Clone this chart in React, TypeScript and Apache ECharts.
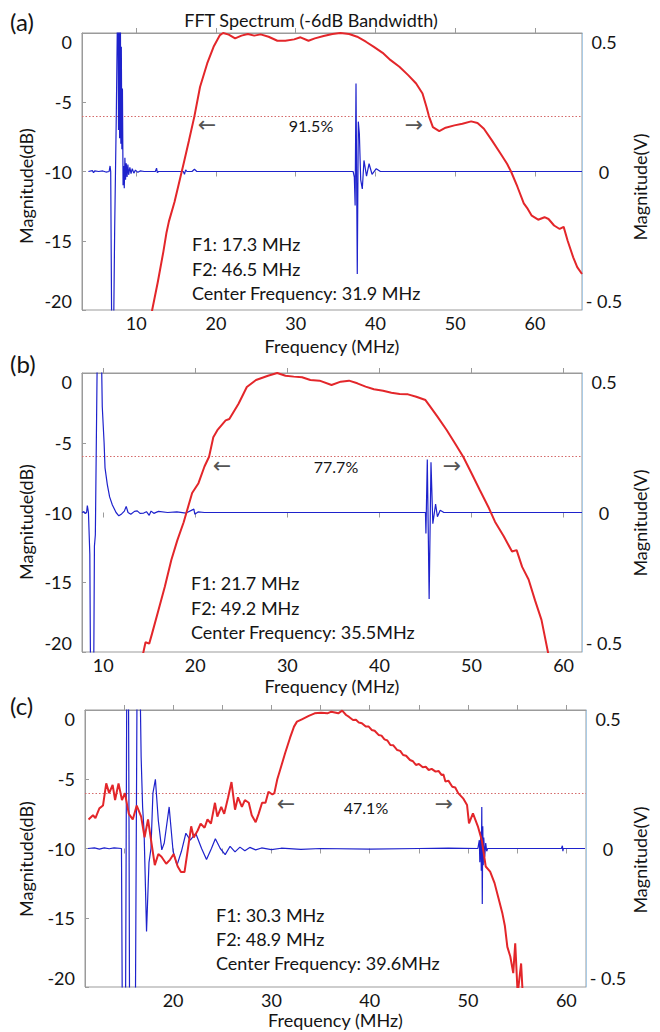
import React, { useEffect, useRef } from "react";
import * as echarts from "echarts";

const FONT = 'Lato, "Open Sans", sans-serif';

// ---------- data ----------
const panelLabels = ["(a)", "(b)", "(c)"];
const chartTitle = "FFT Spectrum (-6dB Bandwidth)";
const xName = "Frequency (MHz)";
const leftName = "Magnitude(dB)";
const rightName = "Magnitude(V)";
const bandwidths = ["91.5%", "77.7%", "47.1%"];
const infoA = ["F1: 17.3 MHz", "F2: 46.5 MHz", "Center Frequency: 31.9 MHz"];
const infoB = ["F1: 21.7 MHz", "F2: 49.2 MHz", "Center Frequency: 35.5MHz"];
const infoC = ["F1: 30.3 MHz", "F2: 48.9 MHz", "Center Frequency: 39.6MHz"];

const xRangeA = [3.2, 65.9];
const xRangeB = [7.7, 62.0];
const xRangeC = [11.04, 62.0];
const xLabelsAB = [10, 20, 30, 40, 50, 60];
const xLabelsC = [20, 30, 40, 50, 60];
const xTicksC = [15, 20, 25, 30, 35, 40, 45, 50, 55, 60];
const thresholdDb = -6;

// (a) spectrum, dB
const redA: number[][] = [
  [11.5, -22], [12.0, -20], [12.7, -18.0], [13.4, -15.8], [13.8, -14.4], [14.1, -13.6], [14.8, -12.2],
  [15.5, -10.5], [16.0, -9.3], [16.6, -7.8], [17.3, -6.0], [18.0, -3.9], [18.9, -2.2], [19.7, -1.0],
  [20.5, -0.15], [20.9, 0], [21.6, -0.12], [22.4, -0.39], [23.2, -0.19], [24.0, -0.07], [24.8, -0.19],
  [25.6, -0.1], [26.6, -0.27], [27.7, -0.56], [28.7, -0.56], [29.8, -0.46], [30.6, -0.31], [31.6, -0.56],
  [32.4, -0.39], [33.5, -0.22], [34.6, -0.07], [35.6, 0], [36.7, -0.07], [37.7, -0.27], [38.8, -0.63],
  [39.8, -1.0], [40.9, -1.43], [41.9, -1.96], [43.0, -2.44], [44.1, -3.04], [45.1, -3.65], [45.9, -4.37],
  [46.4, -5.34], [46.7, -6.0], [47.2, -6.79], [48.0, -7.08], [48.8, -6.84], [49.9, -6.67], [50.9, -6.55],
  [52.0, -6.38], [52.8, -6.5], [53.6, -6.91], [54.6, -7.75], [55.7, -8.72], [56.5, -9.44], [57.0, -10.0],
  [57.8, -11.1], [58.6, -12.3], [59.1, -12.7], [59.6, -13.19], [60.4, -13.48], [61.2, -13.3], [61.7, -13.43],
  [62.4, -13.9], [63.1, -14.15], [63.6, -14.0], [64.1, -15.0], [64.8, -16.2], [65.3, -16.9], [65.9, -17.4],
];
// (a) waveform, V
const blueA: number[][] = [
  [4.0, 0], [4.5, 0.003], [4.65, -0.004], [4.8, 0.002], [5.3, 0], [5.8, 0.002], [6.2, -0.002], [6.6, 0],
  [6.72, 0.02], [6.8, 0], [6.95, -0.7], [7.12, -0.7], [7.3, -0.2], [7.5, 0.2], [7.7, 0.7], [7.78, 0.15],
  [7.85, 0.7], [7.92, 0.12], [8.0, 0.7], [8.07, 0.1], [8.13, 0.45], [8.2, 0.08], [8.27, 0.3], [8.35, -0.05],
  [8.42, 0.02], [8.5, -0.06], [8.58, 0.05], [8.66, -0.03], [8.75, 0.03], [8.85, -0.02], [8.95, 0.025],
  [9.05, -0.012], [9.2, 0.015], [9.35, -0.008], [9.5, 0.01], [9.7, -0.006], [9.9, 0.005], [10.2, -0.003],
  [10.5, 0.002], [11, 0], [12.4, 0], [12.55, 0.012], [12.65, -0.004], [12.8, 0], [15.9, 0], [16.05, -0.01],
  [16.2, 0.006], [16.35, 0], [17.0, 0], [17.3, 0.008], [17.6, 0], [37.2, 0], [37.35, -0.02], [37.45, -0.123],
  [37.56, 0.318], [37.72, -0.37], [37.85, 0.18], [37.98, 0.137], [38.15, -0.03], [38.35, -0.063],
  [38.56, 0.04], [38.88, -0.017], [39.2, 0.028], [39.57, -0.01], [40.1, 0.01], [40.62, 0], [65.9, 0],
];

// (b) spectrum, dB
const redB: number[][] = [
  [14.0, -21], [14.37, -20], [14.6, -19.3], [15.0, -19.4], [15.3, -18.7], [16.0, -17.0], [16.7, -15.3],
  [17.4, -13.4], [18.05, -12.0], [18.74, -10.7], [19.66, -8.6], [20.35, -7.9], [21.0, -6.7], [21.5, -6.0],
  [21.96, -4.6], [22.4, -4.1], [23.3, -3.4], [23.7, -3.3], [24.7, -2.2], [25.6, -1.0], [26.6, -0.5],
  [27.9, -0.2], [28.9, 0], [29.8, -0.2], [30.7, -0.26], [31.6, -0.31], [32.5, -0.5], [33.5, -0.55],
  [34.8, -0.86], [35.8, -0.62], [36.7, -0.55], [37.6, -0.74], [38.5, -0.98], [39.4, -1.17], [40.4, -1.27],
  [41.3, -1.41], [42.2, -1.5], [43.1, -1.53], [44.0, -1.7], [45.0, -1.94], [45.4, -2.3], [46.3, -3.13],
  [47.3, -4.09], [48.2, -5.04], [49.1, -6.0], [50.0, -7.19], [50.9, -8.39], [51.9, -9.7], [52.55, -10.66],
  [53.5, -11.7], [54.4, -12.8], [54.9, -12.7], [55.5, -13.9], [56.2, -14.8], [56.9, -16.3], [57.6, -17.7],
  [58.3, -20], [58.6, -21],
];
// (b) waveform, V
const blueB: number[][] = [
  [7.7, 0], [7.9, 0.003], [8.05, -0.004], [8.2, 0.0], [8.28, 0.025], [8.4, 0], [8.55, -0.15], [8.65, -0.7],
  [8.95, -0.7], [9.05, -0.12], [9.15, -0.08], [9.4, 0.7], [9.75, 0.7], [9.9, 0.38], [10.1, 0.25], [10.2, 0.16],
  [10.45, 0.1], [10.7, 0.056], [11.0, 0.027], [11.4, 0.0], [11.7, -0.012], [12.0, -0.005], [12.3, 0.005],
  [12.5, 0.022], [12.7, 0.0], [13.0, -0.006], [13.4, 0.004], [13.7, 0.006], [14.0, -0.003], [14.4, -0.002],
  [14.7, 0.003], [15.0, -0.01], [15.2, 0.005], [15.5, -0.003], [16.0, 0.004], [17, 0], [18, 0.002],
  [19.0, -0.002], [19.85, 0.012], [19.95, -0.006], [20.3, 0.002], [21, 0], [45.0, 0], [45.05, -0.075],
  [45.2, 0.19], [45.4, -0.31], [45.6, 0.18], [45.8, -0.04], [46.1, 0.03], [46.3, -0.015], [46.6, 0.008],
  [47, 0], [62, 0],
];

// (c) spectrum, dB
const redC: number[][] = [
  [11.4, -7.9], [11.85, -7.6], [12.1, -7.8], [12.5, -7.1], [12.87, -6.9], [13.2, -5.3], [13.5, -6.0],
  [13.85, -5.4], [14.1, -6.5], [14.45, -5.3], [14.8, -6.5], [15.1, -6.0], [15.5, -7.5], [15.9, -7.9],
  [16.3, -6.9], [16.75, -7.7], [17.1, -9.2], [17.45, -7.9], [17.8, -9.6], [18.14, -11.2], [18.5, -10.4],
  [18.82, -10.6], [19.3, -11.1], [19.7, -10.8], [20.06, -10.4], [20.47, -11.3], [20.8, -11.7], [21.16, -11.7],
  [21.43, -10.4], [21.84, -8.4], [22.1, -9.2], [22.5, -8.7], [22.8, -8.2], [23.2, -8.5], [23.5, -7.9],
  [23.85, -8.2], [24.26, -6.7], [24.5, -7.7], [24.9, -7.0], [25.2, -7.5], [25.6, -6.3], [25.94, -5.2],
  [26.3, -7.2], [26.6, -6.3], [27.0, -7.0], [27.3, -6.5], [27.7, -6.7], [28.0, -7.6], [28.4, -8.1],
  [28.7, -7.5], [29.05, -6.7], [29.4, -6.7], [29.7, -5.9], [30.1, -6.1], [30.3, -6.0], [30.6, -5.0],
  [30.9, -4.3], [31.4, -3.1], [31.9, -2.0], [32.3, -1.2], [32.6, -0.84], [33.1, -0.67], [33.8, -0.43],
  [34.4, -0.24], [35.05, -0.19], [35.7, -0.24], [36.1, -0.12], [36.8, -0.24], [37.2, -0.05], [37.6, -0.36],
  [37.9, -0.5], [38.3, -0.72], [38.6, -0.7], [38.9, -0.91], [39.2, -0.95], [39.6, -1.2], [39.9, -1.2],
  [40.2, -1.44], [40.5, -1.5], [40.9, -1.8], [41.2, -1.85], [41.5, -2.12], [41.8, -2.2], [42.1, -2.53],
  [42.4, -2.55], [42.8, -2.89], [43.1, -2.95], [43.4, -3.25], [43.7, -3.3], [44.1, -3.61], [44.4, -3.7],
  [44.7, -3.97], [45.0, -3.9], [45.4, -4.14], [45.7, -4.1], [46.0, -4.33], [46.3, -4.25], [46.7, -4.45],
  [47.0, -4.4], [47.3, -4.69], [47.5, -4.65], [47.7, -5.17], [48.0, -5.1], [48.4, -5.54], [48.7, -5.6],
  [49.0, -6.0], [49.5, -6.38], [49.9, -6.86], [50.1, -8.18], [50.5, -7.46], [51.0, -8.4], [51.4, -9.4],
  [51.8, -11.3], [52.25, -11.67], [52.7, -12.5], [53.1, -13.6], [53.5, -14.7], [53.75, -15.6], [54.0, -17.1],
  [54.3, -17.8], [54.6, -19.0], [54.8, -16.85], [55.05, -20.5], [55.4, -18.3], [55.6, -21], [55.8, -22],
];
// (c) waveform, V
const blueC: number[][] = [
  [11.35, 0], [12, 0.002], [12.5, -0.002], [13, 0.002], [13.5, -0.001], [14, 0.002], [14.75, 0],
  [14.85, -0.7], [15.15, -0.7], [15.3, 0.7], [15.45, 0.7], [15.52, 0.07], [15.58, -0.7], [16.15, -0.7],
  [16.35, 0.7], [16.6, 0.7], [16.75, 0.33], [16.9, 0.15], [17.05, 0.06], [17.3, -0.3], [17.55, -0.05],
  [17.75, 0.0], [17.95, 0.2], [18.2, 0.25], [18.5, 0.1], [18.85, -0.005], [19.1, 0.02], [19.6, 0.15],
  [20.0, -0.01], [20.4, -0.06], [20.85, -0.01], [21.3, 0.055], [21.75, 0.03], [22.3, 0.055], [22.9, 0.0],
  [23.4, -0.04], [23.9, 0.0], [24.3, 0.035], [24.8, 0.0], [25.3, -0.022], [25.8, 0.008], [26.3, -0.012],
  [26.8, 0.005], [27.3, -0.008], [27.8, 0.004], [28.4, -0.005], [29.0, 0.002], [30, -0.004], [31, 0.001],
  [33, -0.003], [35, 0.0], [40, -0.002], [45, 0.0], [48, 0.001], [51.0, 0], [51.15, 0.03], [51.2, -0.05],
  [51.3, 0.06], [51.35, -0.08], [51.4, 0.15], [51.45, -0.2], [51.5, 0.08], [51.55, -0.06], [51.6, 0.04],
  [51.7, -0.03], [51.8, 0.02], [51.9, -0.01], [52, 0], [59.5, 0], [59.6, 0.01], [59.65, -0.01], [59.7, 0],
  [61.9, 0],
];

// ---------- layout ----------
const grids = [
  { left: 82, top: 33, width: 500, height: 277 },
  { left: 82, top: 373, width: 500, height: 279 },
  { left: 85, top: 710, width: 501, height: 277 },
];
const panels = [
  { red: redA, blue: blueA, xr: xRangeA, labels: xLabelsAB, ticks: xLabelsAB, info: infoA, nameGap: 27,
    infoPos: [192, 244, 24.5], pct: [311, 125], la: [207, 124], ra: [414, 124], tag: [10, 21], nameY: 186 },
  { red: redB, blue: blueB, xr: xRangeB, labels: xLabelsAB, ticks: xLabelsAB, info: infoB, nameGap: 25,
    infoPos: [191, 583, 24.5], pct: [336, 466], la: [222, 465], ra: [452, 465], tag: [10, 363], nameY: 522 },
  { red: redC, blue: blueC, xr: xRangeC, labels: xLabelsC, ticks: xTicksC, info: infoC, nameGap: 24,
    infoPos: [216, 915, 24], pct: [366, 807], la: [286, 803], ra: [444, 803], tag: [10, 705], nameY: 859 },
];

const GRAY = "#9b9b9b";
const TXT = "#141414";

function text(x: number, y: number, t: string, size: number, align = "left", extra: any = {}, font = FONT, fill = TXT) {
  return {
    type: "text",
    x,
    y,
    silent: true,
    ...extra,
    style: { text: t, fill, fontSize: size, fontFamily: font, align, verticalAlign: "middle" },
  };
}

function buildOption() {
  const xAxis: any[] = [];
  const yAxis: any[] = [];
  const series: any[] = [];
  const graphic: any[] = [];

  panels.forEach((p, i) => {
    xAxis.push({
      gridIndex: i, type: "value", min: p.xr[0], max: p.xr[1], position: "bottom",
      axisLine: { show: true, lineStyle: { color: GRAY, width: 1 } },
      axisTick: { show: true, inside: true, length: 5, lineStyle: { color: GRAY }, customValues: p.ticks },
      axisLabel: { show: true, customValues: p.labels, color: TXT, fontSize: 18, fontFamily: FONT, margin: 4 },
      splitLine: { show: false },
      name: xName, nameLocation: "middle", nameGap: p.nameGap,
      nameTextStyle: { color: TXT, fontSize: 18, fontFamily: FONT },
    });
    xAxis.push({
      gridIndex: i, type: "value", min: p.xr[0], max: p.xr[1], position: "top",
      axisLine: { show: false },
      axisTick: { show: true, inside: true, length: 5, lineStyle: { color: GRAY }, customValues: p.ticks },
      axisLabel: { show: false },
      splitLine: { show: false },
    });
    yAxis.push({
      gridIndex: i, type: "value", min: -20, max: 0, interval: 5, position: "left",
      axisLine: { show: true, lineStyle: { color: GRAY } },
      axisTick: { show: true, inside: true, length: 4, lineStyle: { color: GRAY } },
      axisLabel: { color: TXT, fontSize: 18, fontFamily: FONT, margin: 10, align: "right",
        verticalAlignMaxLabel: "top", verticalAlignMinLabel: "bottom" },
      splitLine: { show: false },
    });
    yAxis.push({
      gridIndex: i, type: "value", min: -0.5, max: 0.5, interval: 0.5, position: "right",
      axisLine: { show: true, lineStyle: { color: "#a9cbe6" } },
      axisTick: { show: false },
      axisLabel: { color: TXT, fontSize: 18, fontFamily: FONT, margin: 22, align: "center",
        verticalAlignMaxLabel: "top", verticalAlignMinLabel: "bottom",
        formatter: (v: number) => (v < 0 ? "- " + Math.abs(v) : String(v)) },
      splitLine: { show: false },
    });

    series.push({
      type: "line", xAxisIndex: 2 * i, yAxisIndex: 2 * i + 1, data: p.blue, symbol: "none",
      showSymbol: false, clip: true, z: 2, lineStyle: { color: "#1e22cc", width: 1.2 },
    });
    series.push({
      type: "line", xAxisIndex: 2 * i, yAxisIndex: 2 * i, data: p.red, symbol: "none",
      showSymbol: false, clip: true, z: 3, lineStyle: { color: "#e3262a", width: 2 },
      markLine: {
        silent: true, symbol: "none", z: 1,
        label: { show: false },
        lineStyle: { type: [1.5, 2], color: "#d46a6a", width: 1 },
        data: [{ yAxis: thresholdDb }],
      },
    });

    // annotations
    graphic.push(text(p.tag[0], p.tag[1], panelLabels[i], 24));
    graphic.push(text(26, p.nameY, leftName, 18, "center", { rotation: Math.PI / 2 }));
    graphic.push(text(640, p.nameY + 1, rightName, 18, "center", { rotation: Math.PI / 2 }));
    graphic.push(text(p.pct[0], p.pct[1], bandwidths[i], 16, "center"));
    graphic.push(text(p.la[0], p.la[1], "\u2190", 22, "center", {}, '"DejaVu Sans", sans-serif', "#555"));
    graphic.push(text(p.ra[0], p.ra[1], "\u2192", 22, "center", {}, '"DejaVu Sans", sans-serif', "#555"));
    p.info.forEach((line, k) => {
      graphic.push(text(p.infoPos[0], p.infoPos[1] + k * p.infoPos[2], line, 18));
    });
  });

  graphic.push(text(311, 20, chartTitle, 18, "center"));

  return {
    animation: false,
    backgroundColor: "#ffffff",
    grid: grids.map((g) => ({ ...g, show: true, borderColor: GRAY, borderWidth: 1, containLabel: false })),
    xAxis,
    yAxis,
    series,
    graphic,
  };
}

export default function App() {
  const ref = useRef<HTMLDivElement>(null);
  useEffect(() => {
    if (!ref.current) return;
    const chart = echarts.init(ref.current, undefined, { renderer: "svg" });
    chart.setOption(buildOption() as any);
    return () => chart.dispose();
  }, []);
  return (
    <div
      ref={ref}
      style={{ position: "fixed", left: 0, top: 0, width: 660, height: 1032, background: "#fff" }}
    />
  );
}
